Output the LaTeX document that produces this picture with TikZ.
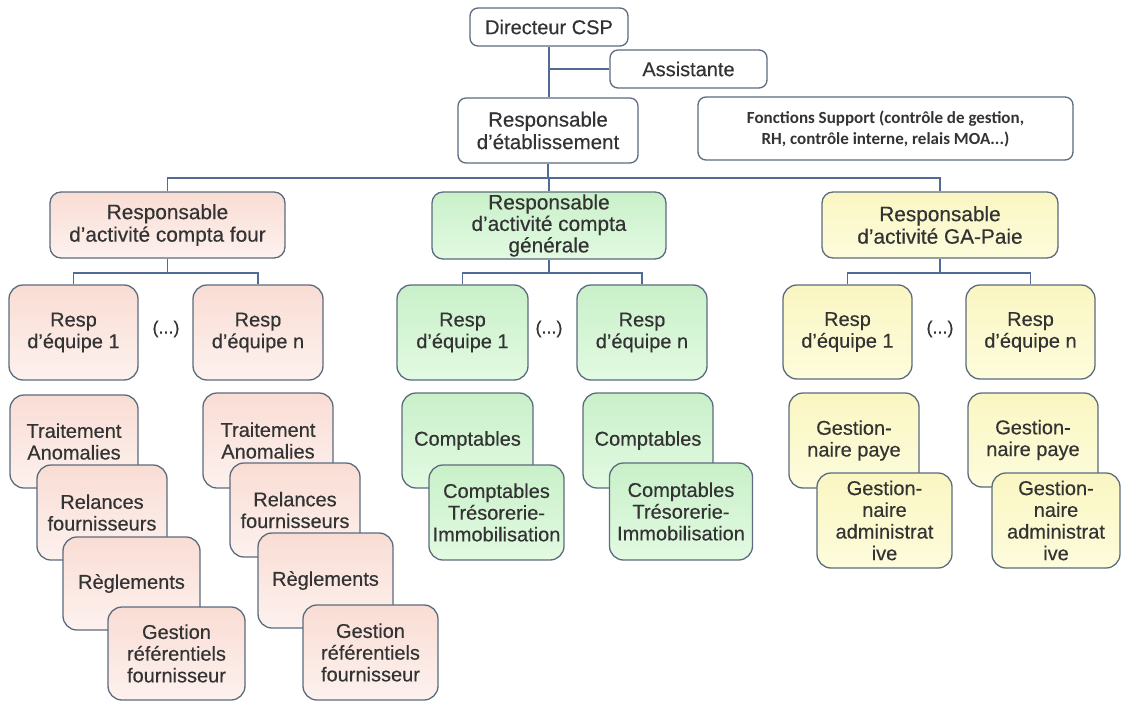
\documentclass[tikz,border=0pt]{standalone}
\usepackage{fontspec}
\setmainfont{Liberation Sans}[FakeBold=0.35]
\newfontfamily\carlito{Carlito}
\definecolor{bordc}{HTML}{5C6B7E}
\definecolor{connc}{HTML}{4F6B96}
\definecolor{txtc}{HTML}{333333}
\definecolor{redtop}{HTML}{F9DDD4}
\definecolor{redbot}{HTML}{FDF1EE}
\definecolor{grntop}{HTML}{C9F0C9}
\definecolor{grnbot}{HTML}{E2FAE2}
\definecolor{yeltop}{HTML}{FAF6C2}
\definecolor{yelbot}{HTML}{FDFCDC}
\tikzset{
  box/.style={draw=bordc, line width=1.3pt, rounded corners=11pt, align=center,
    text=txtc, font=\fontsize{20}{21.7}\selectfont, inner sep=0pt, anchor=center},
  topbox/.style={box, fill=white, rounded corners=8pt},
  redbox/.style={box, top color=redtop, bottom color=redbot, rounded corners=14pt},
  grnbox/.style={box, top color=grntop, bottom color=grnbot, rounded corners=14pt},
  yelbox/.style={box, top color=yeltop, bottom color=yelbot, rounded corners=14pt},
  headbox/.style={rounded corners=11pt, font=\fontsize{20.8}{22.5}\selectfont},
  sz/.style 2 args={minimum width=#1pt, minimum height=#2pt},
  conn/.style={draw=connc, line width=1.2pt},
  dots/.style={text=txtc, font=\fontsize{18}{20}\selectfont, inner sep=0pt}
}
\begin{document}
\begin{tikzpicture}[x=1pt, y=-1pt]
\useasboundingbox (0,0) rectangle (1122,701);
% top level
\node[topbox, sz={158}{38}] (dir) at (549,27) {Directeur CSP};
\node[topbox, sz={157}{38}] (asst) at (688.5,69) {Assistante};
\node[topbox, sz={180}{65}, font=\fontsize{20.5}{22.5}\selectfont] (retab) at (548,130.5) {Responsable\\d’établissement};
\node[topbox, sz={375}{63}, font=\carlito\bfseries\fontsize{17}{21}\selectfont] (fs) at (885.5,128.5)
  {Fonctions Support (contrôle de gestion,\\RH, contrôle interne, relais MOA...)};
\draw[conn] (dir.south) -- (dir.south |- retab.north);
\draw[conn] (asst.west) -- (asst.west -| dir.south);
% activity heads
\node[redbox, headbox, sz={235}{66}] (rcf) at (167.5,225) {Responsable\\d’activité compta four};
\node[grnbox, headbox, sz={234}{67}, font=\fontsize{20.8}{21.5}\selectfont] (rcg) at (549,225.5) {Responsable\\d’activité compta\\générale};
\node[yelbox, headbox, sz={236}{66}] (rga) at (940,225) {Responsable\\d’activité GA-Paie};
\coordinate (b1) at (548,178);
\draw[conn] (retab.south) -- (b1);
\draw[conn] (rcf.north) |- (b1);
\draw[conn] (rga.north) |- (b1);
\draw[conn] (rcg.north) -- (rcg.north |- b1);
% team leads
\node[redbox, sz={129}{95}] (r1) at (73.5,332.5) {Resp\\d’équipe 1};
\node[redbox, sz={130}{95}] (rn) at (258,332.5) {Resp\\d’équipe n};
\node[grnbox, sz={131}{95}] (g1) at (462.5,332.5) {Resp\\d’équipe 1};
\node[grnbox, sz={130}{95}] (gn) at (642,332.5) {Resp\\d’équipe n};
\node[yelbox, sz={129}{94}] (y1) at (847.5,332) {Resp\\d’équipe 1};
\node[yelbox, sz={129}{94}] (yn) at (1030.5,332) {Resp\\d’équipe n};
\node[dots] (d1) at (166,329) {(...)};
\node[dots] (d2) at (549,329) {(...)};
\node[dots] (d3) at (940,329) {(...)};
\coordinate (b2r) at (167.5,273);
\coordinate (b2g) at (549,273);
\coordinate (b2y) at (940,273);
\draw[conn] (rcf.south) -- (b2r);
\draw[conn] (r1.north) |- (b2r);
\draw[conn] (rn.north) |- (b2r);
\draw[conn] (rcg.south) -- (b2g);
\draw[conn] (g1.north) |- (b2g);
\draw[conn] (gn.north) |- (b2g);
\draw[conn] (rga.south) -- (b2y);
\draw[conn] (y1.north) |- (b2y);
\draw[conn] (yn.north) |- (b2y);
% red stacks
\node[redbox, sz={128}{93}] (ta1) at (74,441.5) {Traitement\\Anomalies};
\node[redbox, sz={130}{95}] (rf1) at (102,512.5) {Relances\\fournisseurs};
\node[redbox, sz={137}{93}] (rg1) at (131.5,583.5) {Règlements};
\node[redbox, sz={137}{93}] (gr1) at (176.5,653.5) {Gestion\\référentiels\\fournisseur};
\node[redbox, sz={130}{95}] (ta2) at (268,440.5) {Traitement\\Anomalies};
\node[redbox, sz={130}{94}] (rf2) at (295,510) {Relances\\fournisseurs};
\node[redbox, sz={135}{95}] (rg2) at (325.5,580.5) {Règlements};
\node[redbox, sz={135}{95}] (gr2) at (370.5,652.5) {Gestion\\référentiels\\fournisseur};
% green stacks
\node[grnbox, sz={131}{95}] (c1) at (467.5,440.5) {Comptables};
\node[grnbox, sz={135}{95}] (ct1) at (496.5,512.5) {Comptables\\Trésorerie-\\Immobilisation};
\node[grnbox, sz={130}{95}] (c2) at (648,440.5) {Comptables};
\node[grnbox, sz={143}{97}] (ct2) at (681,511.5) {Comptables\\Trésorerie-\\Immobilisation};
% yellow stacks
\node[yelbox, sz={130}{95}] (gp1) at (854,440.5) {Gestion-\\naire paye};
\node[yelbox, sz={135}{95}] (ga1) at (884.5,520.5) {Gestion-\\naire\\administrat\\ive};
\node[yelbox, sz={130}{94}] (gp2) at (1033,440) {Gestion-\\naire paye};
\node[yelbox, sz={128}{95}] (ga2) at (1056,520.5) {Gestion-\\naire\\administrat\\ive};
\end{tikzpicture}
\end{document}
